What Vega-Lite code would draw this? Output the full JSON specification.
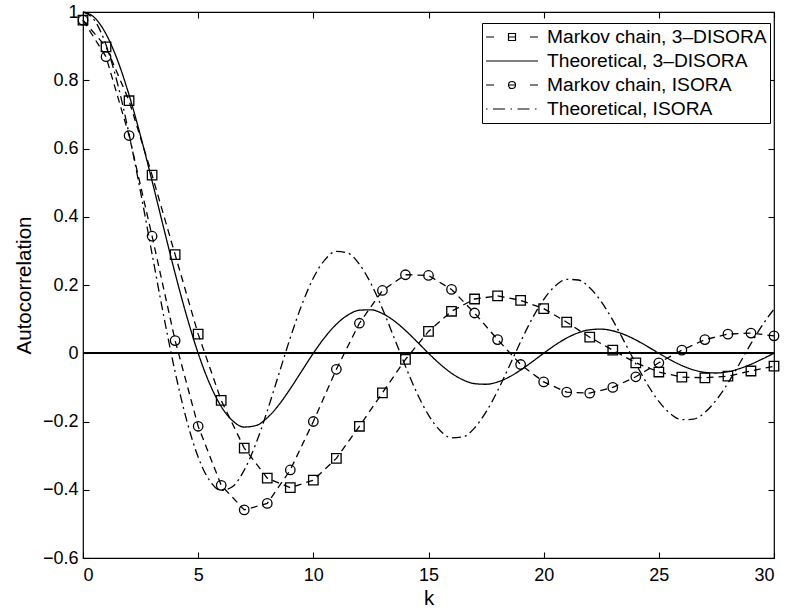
{
  "$schema": "https://vega.github.io/schema/vega-lite/v6.json",
  "width": 691,
  "height": 546,
  "autosize": "none",
  "padding": {"left": 83, "top": 12, "right": 13, "bottom": 52},
  "background": "white",
  "config": {
    "font": "Liberation Sans",
    "view": {"stroke": "black", "strokeWidth": 1.2},
    "axis": {
      "labelFont": "Liberation Sans", "labelFontSize": 18, "labelColor": "black",
      "titleFont": "Liberation Sans", "titleFontSize": 20.5, "titleFontWeight": "normal", "titleColor": "black",
      "domain": false, "grid": false, "tickColor": "black", "tickSize": -6, "tickWidth": 1.1
    }
  },
  "data": {"values": [
    {"k":0,"series":"Markov chain, 3–DISORA","r":0.976},{"k":1,"series":"Markov chain, 3–DISORA","r":0.898},{"k":2,"series":"Markov chain, 3–DISORA","r":0.74},{"k":3,"series":"Markov chain, 3–DISORA","r":0.522},{"k":4,"series":"Markov chain, 3–DISORA","r":0.289},{"k":5,"series":"Markov chain, 3–DISORA","r":0.056},{"k":6,"series":"Markov chain, 3–DISORA","r":-0.138},{"k":7,"series":"Markov chain, 3–DISORA","r":-0.278},{"k":8,"series":"Markov chain, 3–DISORA","r":-0.366},{"k":9,"series":"Markov chain, 3–DISORA","r":-0.394},{"k":10,"series":"Markov chain, 3–DISORA","r":-0.372},{"k":11,"series":"Markov chain, 3–DISORA","r":-0.308},{"k":12,"series":"Markov chain, 3–DISORA","r":-0.214},{"k":13,"series":"Markov chain, 3–DISORA","r":-0.116},{"k":14,"series":"Markov chain, 3–DISORA","r":-0.018},{"k":15,"series":"Markov chain, 3–DISORA","r":0.064},{"k":16,"series":"Markov chain, 3–DISORA","r":0.123},{"k":17,"series":"Markov chain, 3–DISORA","r":0.159},{"k":18,"series":"Markov chain, 3–DISORA","r":0.168},{"k":19,"series":"Markov chain, 3–DISORA","r":0.155},{"k":20,"series":"Markov chain, 3–DISORA","r":0.131},{"k":21,"series":"Markov chain, 3–DISORA","r":0.091},{"k":22,"series":"Markov chain, 3–DISORA","r":0.047},{"k":23,"series":"Markov chain, 3–DISORA","r":0.009},{"k":24,"series":"Markov chain, 3–DISORA","r":-0.028},{"k":25,"series":"Markov chain, 3–DISORA","r":-0.055},{"k":26,"series":"Markov chain, 3–DISORA","r":-0.07},{"k":27,"series":"Markov chain, 3–DISORA","r":-0.072},{"k":28,"series":"Markov chain, 3–DISORA","r":-0.067},{"k":29,"series":"Markov chain, 3–DISORA","r":-0.052},{"k":30,"series":"Markov chain, 3–DISORA","r":-0.038},
    {"k":0,"series":"Markov chain, ISORA","r":0.976},{"k":1,"series":"Markov chain, ISORA","r":0.869},{"k":2,"series":"Markov chain, ISORA","r":0.638},{"k":3,"series":"Markov chain, ISORA","r":0.343},{"k":4,"series":"Markov chain, ISORA","r":0.037},{"k":5,"series":"Markov chain, ISORA","r":-0.214},{"k":6,"series":"Markov chain, ISORA","r":-0.387},{"k":7,"series":"Markov chain, ISORA","r":-0.459},{"k":8,"series":"Markov chain, ISORA","r":-0.44},{"k":9,"series":"Markov chain, ISORA","r":-0.342},{"k":10,"series":"Markov chain, ISORA","r":-0.2},{"k":11,"series":"Markov chain, ISORA","r":-0.047},{"k":12,"series":"Markov chain, ISORA","r":0.088},{"k":13,"series":"Markov chain, ISORA","r":0.184},{"k":14,"series":"Markov chain, ISORA","r":0.23},{"k":15,"series":"Markov chain, ISORA","r":0.228},{"k":16,"series":"Markov chain, ISORA","r":0.187},{"k":17,"series":"Markov chain, ISORA","r":0.118},{"k":18,"series":"Markov chain, ISORA","r":0.04},{"k":19,"series":"Markov chain, ISORA","r":-0.033},{"k":20,"series":"Markov chain, ISORA","r":-0.084},{"k":21,"series":"Markov chain, ISORA","r":-0.114},{"k":22,"series":"Markov chain, ISORA","r":-0.117},{"k":23,"series":"Markov chain, ISORA","r":-0.1},{"k":24,"series":"Markov chain, ISORA","r":-0.069},{"k":25,"series":"Markov chain, ISORA","r":-0.028},{"k":26,"series":"Markov chain, ISORA","r":0.009},{"k":27,"series":"Markov chain, ISORA","r":0.04},{"k":28,"series":"Markov chain, ISORA","r":0.056},{"k":29,"series":"Markov chain, ISORA","r":0.059},{"k":30,"series":"Markov chain, ISORA","r":0.051},
    {"k":0,"series":"Theoretical, 3–DISORA","r":1},{"k":0.5,"series":"Theoretical, 3–DISORA","r":0.9836},{"k":1,"series":"Theoretical, 3–DISORA","r":0.9355},{"k":1.5,"series":"Theoretical, 3–DISORA","r":0.8584},{"k":2,"series":"Theoretical, 3–DISORA","r":0.7568},{"k":2.5,"series":"Theoretical, 3–DISORA","r":0.6366},{"k":3,"series":"Theoretical, 3–DISORA","r":0.5046},{"k":3.5,"series":"Theoretical, 3–DISORA","r":0.3679},{"k":4,"series":"Theoretical, 3–DISORA","r":0.2339},{"k":4.5,"series":"Theoretical, 3–DISORA","r":0.1093},{"k":5,"series":"Theoretical, 3–DISORA","r":0},{"k":5.5,"series":"Theoretical, 3–DISORA","r":-0.0894},{"k":6,"series":"Theoretical, 3–DISORA","r":-0.1559},{"k":6.5,"series":"Theoretical, 3–DISORA","r":-0.1981},{"k":7,"series":"Theoretical, 3–DISORA","r":-0.2162},{"k":7.5,"series":"Theoretical, 3–DISORA","r":-0.2122},{"k":8,"series":"Theoretical, 3–DISORA","r":-0.1892},{"k":8.5,"series":"Theoretical, 3–DISORA","r":-0.1515},{"k":9,"series":"Theoretical, 3–DISORA","r":-0.1039},{"k":9.5,"series":"Theoretical, 3–DISORA","r":-0.0518},{"k":10,"series":"Theoretical, 3–DISORA","r":0},{"k":10.5,"series":"Theoretical, 3–DISORA","r":0.0468},{"k":11,"series":"Theoretical, 3–DISORA","r":0.085},{"k":11.5,"series":"Theoretical, 3–DISORA","r":0.112},{"k":12,"series":"Theoretical, 3–DISORA","r":0.1261},{"k":12.5,"series":"Theoretical, 3–DISORA","r":0.1273},{"k":13,"series":"Theoretical, 3–DISORA","r":0.1164},{"k":13.5,"series":"Theoretical, 3–DISORA","r":0.0954},{"k":14,"series":"Theoretical, 3–DISORA","r":0.0668},{"k":14.5,"series":"Theoretical, 3–DISORA","r":0.0339},{"k":15,"series":"Theoretical, 3–DISORA","r":0},{"k":15.5,"series":"Theoretical, 3–DISORA","r":-0.0317},{"k":16,"series":"Theoretical, 3–DISORA","r":-0.0585},{"k":16.5,"series":"Theoretical, 3–DISORA","r":-0.078},{"k":17,"series":"Theoretical, 3–DISORA","r":-0.089},{"k":17.5,"series":"Theoretical, 3–DISORA","r":-0.0909},{"k":18,"series":"Theoretical, 3–DISORA","r":-0.0841},{"k":18.5,"series":"Theoretical, 3–DISORA","r":-0.0696},{"k":19,"series":"Theoretical, 3–DISORA","r":-0.0492},{"k":19.5,"series":"Theoretical, 3–DISORA","r":-0.0252},{"k":20,"series":"Theoretical, 3–DISORA","r":0},{"k":20.5,"series":"Theoretical, 3–DISORA","r":0.024},{"k":21,"series":"Theoretical, 3–DISORA","r":0.0446},{"k":21.5,"series":"Theoretical, 3–DISORA","r":0.0599},{"k":22,"series":"Theoretical, 3–DISORA","r":0.0688},{"k":22.5,"series":"Theoretical, 3–DISORA","r":0.0707},{"k":23,"series":"Theoretical, 3–DISORA","r":0.0658},{"k":23.5,"series":"Theoretical, 3–DISORA","r":0.0548},{"k":24,"series":"Theoretical, 3–DISORA","r":0.039},{"k":24.5,"series":"Theoretical, 3–DISORA","r":0.0201},{"k":25,"series":"Theoretical, 3–DISORA","r":0},{"k":25.5,"series":"Theoretical, 3–DISORA","r":-0.0193},{"k":26,"series":"Theoretical, 3–DISORA","r":-0.036},{"k":26.5,"series":"Theoretical, 3–DISORA","r":-0.0486},{"k":27,"series":"Theoretical, 3–DISORA","r":-0.0561},{"k":27.5,"series":"Theoretical, 3–DISORA","r":-0.0579},{"k":28,"series":"Theoretical, 3–DISORA","r":-0.0541},{"k":28.5,"series":"Theoretical, 3–DISORA","r":-0.0452},{"k":29,"series":"Theoretical, 3–DISORA","r":-0.0323},{"k":29.5,"series":"Theoretical, 3–DISORA","r":-0.0167},{"k":30,"series":"Theoretical, 3–DISORA","r":0},
    {"k":0,"series":"Theoretical, ISORA","r":1},{"k":0.5,"series":"Theoretical, ISORA","r":0.9755},{"k":1,"series":"Theoretical, ISORA","r":0.9037},{"k":1.5,"series":"Theoretical, ISORA","r":0.79},{"k":2,"series":"Theoretical, ISORA","r":0.6425},{"k":2.5,"series":"Theoretical, ISORA","r":0.472},{"k":3,"series":"Theoretical, ISORA","r":0.2906},{"k":3.5,"series":"Theoretical, ISORA","r":0.1109},{"k":4,"series":"Theoretical, ISORA","r":-0.055},{"k":4.5,"series":"Theoretical, ISORA","r":-0.1961},{"k":5,"series":"Theoretical, ISORA","r":-0.3042},{"k":5.5,"series":"Theoretical, ISORA","r":-0.3737},{"k":6,"series":"Theoretical, ISORA","r":-0.402},{"k":6.5,"series":"Theoretical, ISORA","r":-0.3903},{"k":7,"series":"Theoretical, ISORA","r":-0.3426},{"k":7.5,"series":"Theoretical, ISORA","r":-0.2659},{"k":8,"series":"Theoretical, ISORA","r":-0.1689},{"k":8.5,"series":"Theoretical, ISORA","r":-0.0617},{"k":9,"series":"Theoretical, ISORA","r":0.0452},{"k":9.5,"series":"Theoretical, ISORA","r":0.142},{"k":10,"series":"Theoretical, ISORA","r":0.2203},{"k":10.5,"series":"Theoretical, ISORA","r":0.2737},{"k":11,"series":"Theoretical, ISORA","r":0.2985},{"k":11.5,"series":"Theoretical, ISORA","r":0.2936},{"k":12,"series":"Theoretical, ISORA","r":0.2608},{"k":12.5,"series":"Theoretical, ISORA","r":0.2043},{"k":13,"series":"Theoretical, ISORA","r":0.1304},{"k":13.5,"series":"Theoretical, ISORA","r":0.0468},{"k":14,"series":"Theoretical, ISORA","r":-0.0383},{"k":14.5,"series":"Theoretical, ISORA","r":-0.1167},{"k":15,"series":"Theoretical, ISORA","r":-0.1812},{"k":15.5,"series":"Theoretical, ISORA","r":-0.2262},{"k":16,"series":"Theoretical, ISORA","r":-0.2479},{"k":16.5,"series":"Theoretical, ISORA","r":-0.2451},{"k":17,"series":"Theoretical, ISORA","r":-0.2187},{"k":17.5,"series":"Theoretical, ISORA","r":-0.172},{"k":18,"series":"Theoretical, ISORA","r":-0.11},{"k":18.5,"series":"Theoretical, ISORA","r":-0.0391},{"k":19,"series":"Theoretical, ISORA","r":0.0337},{"k":19.5,"series":"Theoretical, ISORA","r":0.1014},{"k":20,"series":"Theoretical, ISORA","r":0.1575},{"k":20.5,"series":"Theoretical, ISORA","r":0.197},{"k":21,"series":"Theoretical, ISORA","r":0.2165},{"k":21.5,"series":"Theoretical, ISORA","r":0.2146},{"k":22,"series":"Theoretical, ISORA","r":0.192},{"k":22.5,"series":"Theoretical, ISORA","r":0.1513},{"k":23,"series":"Theoretical, ISORA","r":0.0969},{"k":23.5,"series":"Theoretical, ISORA","r":0.0342},{"k":24,"series":"Theoretical, ISORA","r":-0.0305},{"k":24.5,"series":"Theoretical, ISORA","r":-0.0908},{"k":25,"series":"Theoretical, ISORA","r":-0.1412},{"k":25.5,"series":"Theoretical, ISORA","r":-0.1769},{"k":26,"series":"Theoretical, ISORA","r":-0.1947},{"k":26.5,"series":"Theoretical, ISORA","r":-0.1933},{"k":27,"series":"Theoretical, ISORA","r":-0.1732},{"k":27.5,"series":"Theoretical, ISORA","r":-0.1367},{"k":28,"series":"Theoretical, ISORA","r":-0.0875},{"k":28.5,"series":"Theoretical, ISORA","r":-0.0308},{"k":29,"series":"Theoretical, ISORA","r":0.028},{"k":29.5,"series":"Theoretical, ISORA","r":0.083},{"k":30,"series":"Theoretical, ISORA","r":0.1291}
  ]},
  "layer": [
    {
      "transform": [{"filter": {"field": "series", "oneOf": ["Theoretical, 3–DISORA", "Theoretical, ISORA"]}}],
      "mark": {"type": "line", "color": "black", "strokeWidth": 1.3, "interpolate": "monotone"},
      "encoding": {
        "x": {"field": "k", "type": "quantitative", "scale": {"domain": [0, 30], "nice": false},
              "axis": {"orient": "bottom", "values": [0, 5, 10, 15, 20, 25, 30], "title": "k", "labelPadding": 14, "titlePadding": 4}},
        "y": {"field": "r", "type": "quantitative", "scale": {"domain": [-0.6, 1], "nice": false},
              "axis": {"orient": "left", "values": [-0.6, -0.4, -0.2, 0, 0.2, 0.4, 0.6, 0.8, 1], "format": "~g", "title": "Autocorrelation", "labelPadding": 11, "titlePadding": 8}},
        "strokeDash": {"field": "series", "type": "nominal",
                       "scale": {"domain": ["Theoretical, 3–DISORA", "Theoretical, ISORA"], "range": [[1, 0], [9, 4, 2, 4]]},
                       "legend": null}
      }
    },
    {
      "transform": [{"filter": {"field": "series", "oneOf": ["Markov chain, 3–DISORA", "Markov chain, ISORA"]}}],
      "mark": {"type": "line", "color": "black", "strokeWidth": 1.3, "strokeDash": [7, 5]},
      "encoding": {
        "x": {"field": "k", "type": "quantitative", "axis": null},
        "y": {"field": "r", "type": "quantitative", "axis": null},
        "detail": {"field": "series", "type": "nominal"}
      }
    },
    {
      "transform": [{"filter": {"field": "series", "oneOf": ["Markov chain, 3–DISORA", "Markov chain, ISORA"]}}],
      "mark": {"type": "point", "filled": false, "color": "black", "strokeWidth": 1.3, "size": 90, "opacity": 1},
      "encoding": {
        "x": {"field": "k", "type": "quantitative", "axis": null},
        "y": {"field": "r", "type": "quantitative", "axis": null},
        "shape": {"field": "series", "type": "nominal",
                  "scale": {"domain": ["Markov chain, 3–DISORA", "Markov chain, ISORA"], "range": ["square", "circle"]},
                  "legend": null}
      }
    },
    {
      "mark": {"type": "rule", "color": "black", "strokeWidth": 1.2},
      "encoding": {"y": {"datum": 0, "type": "quantitative", "axis": null}}
    },
    {
      "mark": {"type": "point", "filled": false, "color": "black", "opacity": 0},
      "encoding": {
        "x": {"field": "k", "type": "quantitative",
              "axis": {"orient": "top", "values": [0, 5, 10, 15, 20, 25, 30], "labels": false, "title": null}},
        "y": {"field": "r", "type": "quantitative",
              "axis": {"orient": "right", "values": [-0.6, -0.4, -0.2, 0, 0.2, 0.4, 0.6, 0.8, 1], "labels": false, "title": null}},
        "shape": {"field": "series", "type": "nominal",
                  "scale": {"domain": ["Markov chain, 3–DISORA", "Theoretical, 3–DISORA", "Markov chain, ISORA", "Theoretical, ISORA"],
                            "range": [
                              "M-1,0H-0.2M1.25,-0.35H1.95V0.35H1.25ZM1.25,0H1.95M3.4,0H4.2",
                              "M-1,0H4.2",
                              "M-1,0H-0.2M1.95,0A0.35,0.35 0 1,1 1.25,0A0.35,0.35 0 1,1 1.95,0ZM1.25,0H1.95M3.4,0H4.2",
                              "M-1,0H-0.85M-0.3,0H0.9M1.45,0H1.6M2.15,0H3.35M3.9,0H4.05"
                            ]},
                  "legend": {
                    "title": null, "orient": "none", "legendX": 399, "legendY": 11, "direction": "vertical",
                    "strokeColor": "black", "fillColor": "white", "padding": 3, "rowPadding": 2,
                    "labelFont": "Liberation Sans", "labelFontSize": 19.2, "labelColor": "black", "labelOffset": 40, "labelLimit": 0,
                    "symbolSize": 400, "symbolOpacity": 1, "symbolStrokeColor": "black", "symbolFillColor": "transparent", "symbolStrokeWidth": 1.2
                  }}
      }
    }
  ],
  "resolve": {
    "scale": {"shape": "independent", "strokeDash": "independent"},
    "axis": {"x": "independent", "y": "independent"}
  }
}
